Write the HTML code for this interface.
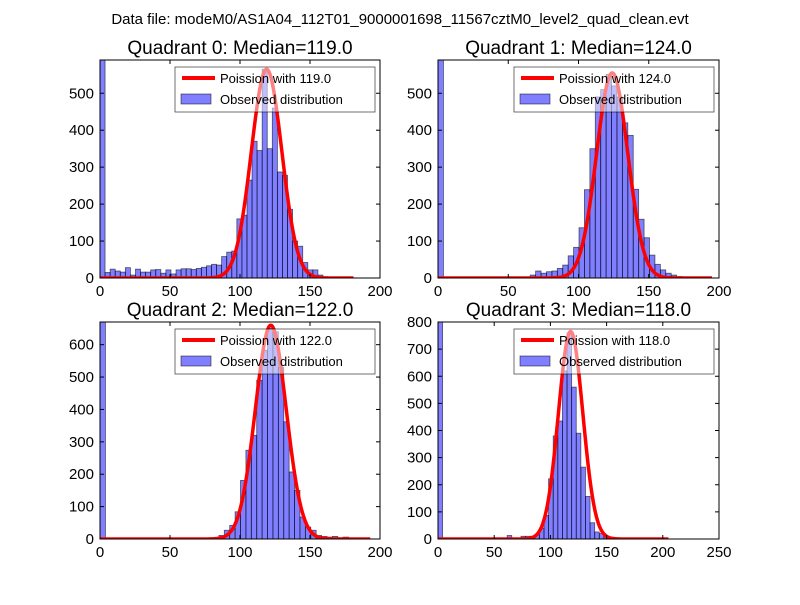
<!DOCTYPE html>
<html><head><meta charset="utf-8"><style>
body{margin:0;background:#fff;}
svg text{font-family:"Liberation Sans","DejaVu Sans",sans-serif;}
</style></head><body>
<svg id="fig" width="800" height="600" viewBox="0 0 800 600" xmlns="http://www.w3.org/2000/svg">
<rect width="800" height="600" fill="#fff"/>
<text x="400" y="24" text-anchor="middle" font-size="15">Data file: modeM0/AS1A04_112T01_9000001698_11567cztM0_level2_quad_clean.evt</text>
</svg>
<script>
const medians = [119.0, 124.0, 122.0, 118.0];
const curvePeaks = [565, 555, 660, 765];
const curveEnds = [181, 195, 193, 205];
const binWidths = [3.62, 3.86, 3.86, 4.1];
const counts0 = [700,15,24,19,16,28,8,24,16,16,22,23,13,22,11,22,25,25,23,26,29,33,37,35,58,70,73,160,170,265,370,345,565,350,460,287,278,186,100,86,42,22,22,8,3,2,1,1,1,1];
const counts1 = [700,0,0,0,0,0,0,0,0,0,0,0,0,0,0,0,0,8,19,13,17,19,26,35,60,83,136,239,350,490,510,551,520,490,420,386,240,159,109,62,37,22,13,8,4,2,1,1,1,1];
const counts2 = [800,0,0,0,0,0,0,0,0,0,0,0,0,0,0,0,0,0,0,0,0,0,11,27,42,84,181,274,320,490,583,650,640,530,362,207,150,68,37,27,11,8,6,8,4,6,3,3,1,1];
const counts3 = [900,0,0,0,0,0,0,0,0,0,0,0,0,0,0,13,0,0,10,10,10,15,40,87,222,380,435,620,760,560,390,265,157,60,26,20,10,3,1,1,1];
const allCounts = [counts0, counts1, counts2, counts3];
const xMaxes = [200, 200, 200, 250];
const yMaxes = [590, 590, 670, 800];
const xTicks = [[0,50,100,150,200],[0,50,100,150,200],[0,50,100,150,200],[0,50,100,150,200,250]];
const yTicks = [[0,100,200,300,400,500],[0,100,200,300,400,500],[0,100,200,300,400,500,600],[0,100,200,300,400,500,600,700,800]];

const NS = "http://www.w3.org/2000/svg";
const svg = document.getElementById('fig');
function mk(tag, attrs, parent){const e=document.createElementNS(NS,tag);for(const k in attrs)e.setAttribute(k,attrs[k]);(parent||svg).appendChild(e);return e;}
const boxes = [[100,60,380,278],[438,60,719,278],[100,322,380,539],[438,322,719,539]];
const defs = mk('defs',{});
for(let q=0;q<4;q++){
  const [L,T,R,B] = boxes[q];
  const xs = v => L + v/xMaxes[q]*(R-L);
  const ys = v => B - v/yMaxes[q]*(B-T);
  const g = mk('g',{});
  
  
  const cp = mk('clipPath',{id:'c'+q},defs);
  mk('rect',{x:L,y:T,width:R-L,height:B-T},cp);
  const bars = mk('g',{'clip-path':'url(#c'+q+')'},g);
  allCounts[q].forEach((c,k)=>{
    if(c<=0) return;
    const x0 = xs(k*binWidths[q]), x1 = xs((k+1)*binWidths[q]);
    const r = mk('rect',{x:x0,y:ys(c),width:x1-x0,height:ys(0)-ys(c),fill:'blue','fill-opacity':0.5,stroke:'#000','stroke-opacity':0.6,'stroke-width':0.8},bars);
    
    
  });
  const mu = medians[q], sd = Math.sqrt(mu);
  let d='';
  for(let v=0; v<=curveEnds[q]; v+=0.5){
    const y = curvePeaks[q]*Math.exp(-0.5*((v-mu)/sd)**2);
    d += (v===0?'M':'L')+xs(v).toFixed(2)+','+ys(y).toFixed(2);
  }
  const line = mk('path',{d:d,fill:'none',stroke:'red','stroke-width':3.5,'stroke-linejoin':'round'},bars);
  
  
  const fr = mk('rect',{x:L,y:T,width:R-L,height:B-T,fill:'none',stroke:'#000','stroke-width':1},g);
  
  
  xTicks[q].forEach(t=>{
    const x = xs(t);
    mk('line',{x1:x,y1:B,x2:x,y2:B-4,stroke:'#000'},g);
    mk('line',{x1:x,y1:T,x2:x,y2:T+4,stroke:'#000'},g);
    const tx = mk('text',{x:x,y:B+18,'text-anchor':'middle','font-size':15},g);
    tx.textContent = t;
    
    
  });
  yTicks[q].forEach(t=>{
    const y = ys(t);
    mk('line',{x1:L,y1:y,x2:L+4,y2:y,stroke:'#000'},g);
    mk('line',{x1:R,y1:y,x2:R-4,y2:y,stroke:'#000'},g);
    const tx = mk('text',{x:L-6,y:y+5,'text-anchor':'end','font-size':15},g);
    tx.textContent = t;
    
    
  });
  const title = mk('text',{x:(L+R)/2,y:T-6,'text-anchor':'middle','font-size':19},g);
  title.textContent = 'Quadrant '+q+': Median='+mu.toFixed(1);
  
  
  const lg = mk('g',{},g);
  
  
  const lx = R-205, ly = T+7;
  mk('rect',{x:lx,y:ly,width:200,height:45,fill:'#fff','fill-opacity':0.5,stroke:'#000','stroke-opacity':0.7,'stroke-width':0.8},lg);
  mk('line',{x1:lx+7,y1:ly+11,x2:lx+40,y2:ly+11,stroke:'red','stroke-width':4},lg);
  mk('rect',{x:lx+6,y:ly+27,width:30,height:10,fill:'blue','fill-opacity':0.5,stroke:'#000','stroke-opacity':0.6,'stroke-width':0.8},lg);
  const t1 = mk('text',{x:lx+45,y:ly+16,'font-size':13},lg);
  t1.textContent = 'Poission with '+mu.toFixed(1);
  
  
  const t2 = mk('text',{x:lx+45,y:ly+37,'font-size':13},lg);
  t2.textContent = 'Observed distribution';
  
  
}
</script>
</body></html>
